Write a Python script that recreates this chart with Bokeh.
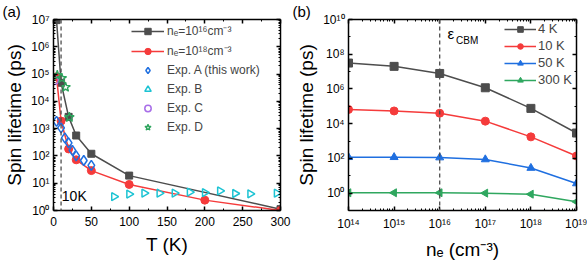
from bokeh.plotting import figure
from bokeh.models import (FixedTicker, LinearAxis, LogAxis, Span, Label, Legend,
                          LegendItem, CustomJSTickFormatter)
from bokeh.layouts import row
from bokeh.embed import file_html
from bokeh.resources import INLINE
import math

FONT = "Liberation Sans"

# ---------------- data: panel (a) ----------------
T_ne16 = [4, 10, 20, 30, 50, 100, 300]
tau_ne16 = [9.5e6, 4.8e4, 2.7e3, 560, 120, 19, 1.12]
T_ne18 = [4, 10, 20, 30, 50, 100, 200, 300]
tau_ne18 = [8e4, 1.9e3, 180, 72, 29, 9, 2.4, 1.0]
T_expA = [4, 10, 15, 20, 25, 30, 40, 50]
tau_expA = [1850, 1070, 460, 300, 160, 100, 68, 45]
T_expB = [80, 100, 120, 140, 160, 180, 200, 220, 240, 260, 295]
tau_expB = [3.2, 4.0, 4.3, 4.3, 4.3, 4.7, 4.5, 5.2, 4.2, 4.1, 4.3]
T_expC = [1]
tau_expC = [5.8e4]
T_expD = [5, 11, 16, 21]
tau_expD = [9e4, 7e4, 3.3e4, 2.6e3]
T_ticks = [0, 50, 100, 150, 200, 250, 300]
T_minor = [25, 75, 125, 175, 225, 275]
a_decades = list(range(0, 8))

# ---------------- data: panel (b) ----------------
ne = [1e14, 1e15, 1e16, 1e17, 1e18, 1e19]
tau_4K = [3.1e7, 2.0e7, 7.8e6, 1.17e6, 7.6e4, 2.9e3]
tau_10K = [6.6e4, 5.4e4, 4.0e4, 1.4e4, 1.74e3, 138]
tau_50K = [117, 117, 112, 87, 28, 3.6]
tau_300K = [1.05, 1.05, 1.05, 1.0, 0.87, 0.32]
b_x_decades = list(range(14, 20))
b_y_decades = list(range(0, 11, 2))
b_y_minor_decades = [-1, 1, 3, 5, 7, 9]

GRAY = "#4d4d4d"
RED = "#f53b3b"
BLUE = "#1f6fe0"
CYAN = "#1cc3d3"
PURPLE = "#a86ee8"
GREEN = "#2ea55e"
GREEN_B = "#2fa75f"

SUP = str.maketrans("0123456789-", "⁰¹²³⁴⁵⁶⁷⁸⁹⁻")


def sup(s):
    return str(s).translate(SUP)


def style_axis(ax, show_labels=True):
    ax.axis_line_color = "black"
    ax.axis_line_width = 1.5
    ax.major_tick_line_color = "black"
    ax.major_tick_line_width = 1.5
    ax.minor_tick_line_color = "black"
    ax.minor_tick_line_width = 1
    ax.major_tick_in = 4
    ax.major_tick_out = 0
    ax.minor_tick_in = 2
    ax.minor_tick_out = 0
    ax.major_label_text_font = FONT
    ax.major_label_text_color = "black"
    ax.axis_label_text_font = FONT
    ax.axis_label_text_font_style = "normal"
    ax.axis_label_text_color = "black"
    if show_labels:
        ax.major_label_text_font_size = "12px"
        ax.axis_label_text_font_size = "19px"
    else:
        ax.formatter = CustomJSTickFormatter(code="return '';")
        ax.major_label_text_font_size = "1px"
        ax.major_label_standoff = 0


def style_title(p, text, offset):
    p.title.text = text
    p.title.text_font = FONT
    p.title.text_font_size = "15px"
    p.title.text_font_style = "normal"
    p.title.text_color = "black"
    p.title.align = "left"
    p.title.offset = offset
    p.title.standoff = 0


def log_minor(decades):
    out = []
    for d in decades:
        for m in range(2, 10):
            out.append(m * 10.0 ** d)
    return out


# ======================= panel (a) =======================
pa = figure(width=292, height=263, x_range=(0, 300), y_range=(1, 1e7),
            y_axis_type="log", output_backend="svg", toolbar_location=None,
            min_border_left=52, min_border_right=12, min_border_top=15,
            min_border_bottom=53)
pa.outline_line_color = None
pa.xgrid.visible = False
pa.ygrid.visible = False
style_title(pa, "(a)", -51)

xt_a = FixedTicker(ticks=T_ticks, minor_ticks=T_minor)
yt_a = FixedTicker(ticks=[10.0 ** d for d in a_decades],
                   minor_ticks=log_minor(a_decades[:-1]))
pa.xaxis.ticker = xt_a
pa.yaxis.ticker = yt_a
pa.xaxis.axis_label = "T (K)"
pa.yaxis.axis_label = "Spin lifetime (ps)"
pa.yaxis.major_label_overrides = {10.0 ** d: "10" + sup(d) for d in a_decades}
for ax in pa.xaxis + pa.yaxis:
    style_axis(ax)
pa.xaxis.major_label_standoff = 6
pa.xaxis.axis_label_standoff = 5
pa.yaxis.major_label_standoff = 4
pa.yaxis.axis_label_standoff = 3

top_a = LinearAxis(ticker=xt_a)
right_a = LogAxis(ticker=yt_a)
style_axis(top_a, False)
style_axis(right_a, False)
pa.add_layout(top_a, "above")
pa.add_layout(right_a, "right")

pa.add_layout(Span(location=10, dimension="height", line_color=GRAY,
                   line_dash="4 3", line_width=1.3))

l16 = pa.line(T_ne16, tau_ne16, line_color=GRAY, line_width=1.5)
s16 = pa.scatter(T_ne16, tau_ne16, marker="square", size=7,
                 fill_color=GRAY, line_color=GRAY)
l18 = pa.line(T_ne18, tau_ne18, line_color=RED, line_width=1.5)
s18 = pa.scatter(T_ne18, tau_ne18, marker="circle", size=8,
                 fill_color=RED, line_color=RED)
rA = pa.scatter(T_expA, tau_expA, marker="diamond", size=10,
                fill_color=None, line_color=BLUE, line_width=1.5)
rB = pa.scatter(T_expB, tau_expB, marker="triangle", size=8, angle=-math.pi / 2,
                fill_color=None, line_color=CYAN, line_width=1.5)
rC = pa.scatter(T_expC, tau_expC, marker="circle", size=8,
                fill_color=None, line_color=PURPLE, line_width=1.5)
rD = pa.scatter(T_expD, tau_expD, marker="star", size=10,
                fill_color=None, line_color=GREEN, line_width=1.3)

leg_a = Legend(items=[
    LegendItem(label="nₑ=10" + sup(16) + "cm" + sup(-3), renderers=[l16, s16]),
    LegendItem(label="nₑ=10" + sup(18) + "cm" + sup(-3), renderers=[l18, s18]),
    LegendItem(label="Exp. A (this work)", renderers=[rA]),
    LegendItem(label="Exp. B", renderers=[rB]),
    LegendItem(label="Exp. C", renderers=[rC]),
    LegendItem(label="Exp. D", renderers=[rD]),
], location=(78, 75), padding=0, margin=0, border_line_color=None,
    background_fill_alpha=0, label_text_font=FONT, label_text_font_size="12px",
    glyph_width=33, glyph_height=16, label_height=16, spacing=3,
    label_standoff=3)
pa.add_layout(leg_a)

pa.add_layout(Label(x=11, y=1.7, text="10K", text_font=FONT,
                    text_font_size="14px", text_color="black"))

# ======================= panel (b) =======================
pb = figure(width=295, height=263, x_range=(1e14, 1e19), y_range=(0.1, 1e10),
            x_axis_type="log", y_axis_type="log", output_backend="svg",
            toolbar_location=None, min_border_left=56, min_border_right=11,
            min_border_top=15, min_border_bottom=51)
pb.outline_line_color = None
pb.xgrid.visible = False
pb.ygrid.visible = False
style_title(pb, "(b)", -56)

xt_b = FixedTicker(ticks=[10.0 ** d for d in b_x_decades],
                   minor_ticks=log_minor(b_x_decades[:-1]))
yt_b = FixedTicker(ticks=[10.0 ** d for d in b_y_decades],
                   minor_ticks=[10.0 ** d for d in b_y_minor_decades])
pb.xaxis.ticker = xt_b
pb.yaxis.ticker = yt_b
pb.xaxis.major_label_overrides = {10.0 ** d: "10" + sup(d) for d in b_x_decades}
pb.yaxis.major_label_overrides = {10.0 ** d: "10" + sup(d) for d in b_y_decades}
pb.xaxis.axis_label = "nₑ (cm" + sup(-3) + ")"
pb.yaxis.axis_label = "Spin lifetime (ps)"
for ax in pb.xaxis + pb.yaxis:
    style_axis(ax)
pb.xaxis.major_label_standoff = 6
pb.xaxis.axis_label_standoff = 5
pb.yaxis.major_label_standoff = 4
pb.yaxis.axis_label_standoff = 3

top_b = LogAxis(ticker=xt_b)
right_b = LogAxis(ticker=yt_b)
style_axis(top_b, False)
style_axis(right_b, False)
pb.add_layout(top_b, "above")
pb.add_layout(right_b, "right")

pb.add_layout(Span(location=1e16, dimension="height", line_color=GRAY,
                   line_dash="4 3", line_width=1.3))

series_b = [
    ("4 K", tau_4K, GRAY, "square", 0),
    ("10 K", tau_10K, RED, "circle", 0),
    ("50 K", tau_50K, BLUE, "triangle", 0),
    ("300 K", tau_300K, GREEN_B, "triangle", math.pi / 2),
]
items_b = []
for lab, vals, col, mk, ang in series_b:
    ln = pb.line(ne, vals, line_color=col, line_width=1.5)
    sc = pb.scatter(ne, vals, marker=mk, size=8, angle=ang,
                    fill_color=col, line_color=col)
    items_b.append(LegendItem(label=lab, renderers=[ln, sc]))

leg_b = Legend(items=items_b, location=(156, 123), padding=0, margin=0,
               border_line_color=None, background_fill_alpha=0,
               label_text_font=FONT, label_text_font_size="13px",
               glyph_width=32, glyph_height=14, label_height=14, spacing=2,
               label_standoff=2)
pb.add_layout(leg_b)

pb.add_layout(Label(x=10 ** 16.17, y=10 ** 8.72, text="ε", text_font=FONT,
                    text_font_size="15px", text_color="black"))
pb.add_layout(Label(x=10 ** 16.36, y=10 ** 8.45, text="CBM", text_font=FONT,
                    text_font_size="10px", text_color="black"))

layout = row(pa, pb)
open("out.html", "w").write(file_html(layout, INLINE))
